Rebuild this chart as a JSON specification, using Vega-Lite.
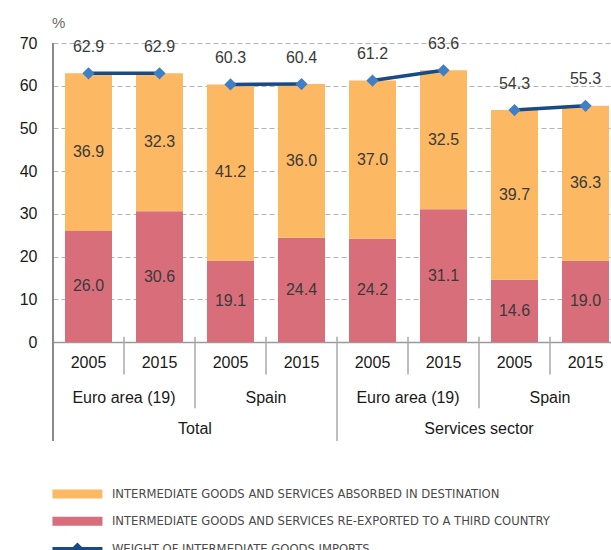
{
  "$schema": "https://vega.github.io/schema/vega-lite/v6.json",
  "width": 558,
  "height": 299,
  "autosize": {"type": "none"},
  "padding": {"left": 53, "top": 43, "right": 0, "bottom": 208},
  "background": "white",
  "config": {
    "font": "Liberation Sans",
    "view": {"stroke": null},
    "axisY": {"grid": true, "gridDash": [5, 3], "gridColor": "#b3b3b3", "gridWidth": 1, "domain": false, "ticks": false, "labelPadding": 16, "labelFontSize": 16, "labelColor": "#1a1a1a", "tickCount": 7, "title": null},
    "axisX": {"labels": false, "ticks": false, "grid": false, "domainColor": "#9a9a9a", "domainWidth": 1.5, "title": null}
  },
  "datasets": {
    "bars": [
      {"id": "1", "series": "INTERMEDIATE GOODS AND SERVICES RE-EXPORTED TO A THIRD COUNTRY", "value": 26.0},
      {"id": "1", "series": "INTERMEDIATE GOODS AND SERVICES ABSORBED IN DESTINATION", "value": 36.9},
      {"id": "2", "series": "INTERMEDIATE GOODS AND SERVICES RE-EXPORTED TO A THIRD COUNTRY", "value": 30.6},
      {"id": "2", "series": "INTERMEDIATE GOODS AND SERVICES ABSORBED IN DESTINATION", "value": 32.3},
      {"id": "3", "series": "INTERMEDIATE GOODS AND SERVICES RE-EXPORTED TO A THIRD COUNTRY", "value": 19.1},
      {"id": "3", "series": "INTERMEDIATE GOODS AND SERVICES ABSORBED IN DESTINATION", "value": 41.2},
      {"id": "4", "series": "INTERMEDIATE GOODS AND SERVICES RE-EXPORTED TO A THIRD COUNTRY", "value": 24.4},
      {"id": "4", "series": "INTERMEDIATE GOODS AND SERVICES ABSORBED IN DESTINATION", "value": 36.0},
      {"id": "5", "series": "INTERMEDIATE GOODS AND SERVICES RE-EXPORTED TO A THIRD COUNTRY", "value": 24.2},
      {"id": "5", "series": "INTERMEDIATE GOODS AND SERVICES ABSORBED IN DESTINATION", "value": 37.0},
      {"id": "6", "series": "INTERMEDIATE GOODS AND SERVICES RE-EXPORTED TO A THIRD COUNTRY", "value": 31.1},
      {"id": "6", "series": "INTERMEDIATE GOODS AND SERVICES ABSORBED IN DESTINATION", "value": 32.5},
      {"id": "7", "series": "INTERMEDIATE GOODS AND SERVICES RE-EXPORTED TO A THIRD COUNTRY", "value": 14.6},
      {"id": "7", "series": "INTERMEDIATE GOODS AND SERVICES ABSORBED IN DESTINATION", "value": 39.7},
      {"id": "8", "series": "INTERMEDIATE GOODS AND SERVICES RE-EXPORTED TO A THIRD COUNTRY", "value": 19.0},
      {"id": "8", "series": "INTERMEDIATE GOODS AND SERVICES ABSORBED IN DESTINATION", "value": 36.3}
    ],
    "totals": [
      {"id": "1", "year": "2005", "pair": "Total-Euro", "total": 62.9},
      {"id": "2", "year": "2015", "pair": "Total-Euro", "total": 62.9},
      {"id": "3", "year": "2005", "pair": "Total-Spain", "total": 60.3},
      {"id": "4", "year": "2015", "pair": "Total-Spain", "total": 60.4},
      {"id": "5", "year": "2005", "pair": "Serv-Euro", "total": 61.2},
      {"id": "6", "year": "2015", "pair": "Serv-Euro", "total": 63.6},
      {"id": "7", "year": "2005", "pair": "Serv-Spain", "total": 54.3},
      {"id": "8", "year": "2015", "pair": "Serv-Spain", "total": 55.3}
    ],
    "groups": [
      {"id": "1", "label": "Euro area (19)", "level": "country"},
      {"id": "3", "label": "Spain", "level": "country"},
      {"id": "5", "label": "Euro area (19)", "level": "country"},
      {"id": "7", "label": "Spain", "level": "country"},
      {"id": "2", "label": "Total", "level": "sector"},
      {"id": "6", "label": "Services sector", "level": "sector"}
    ],
    "seps": [
      {"id": "2", "level": "year"},
      {"id": "4", "level": "year"},
      {"id": "6", "level": "year"},
      {"id": "8", "level": "year"},
      {"id": "3", "level": "country"},
      {"id": "7", "level": "country"},
      {"id": "5", "level": "sector"},
      {"id": "1", "level": "left"}
    ],
    "unit": [{"id": "1", "label": "%"}]
  },
  "layer": [
    {
      "data": {"name": "bars"},
      "mark": {"type": "bar", "width": {"band": 0.662}},
      "encoding": {
        "x": {"field": "id", "type": "nominal", "scale": {"type": "band", "domain": ["1","2","3","4","5","6","7","8"], "range": [0, 568], "paddingInner": 0, "paddingOuter": 0}, "title": null},
        "y": {"field": "value", "type": "quantitative", "stack": "zero", "scale": {"domain": [0, 70], "nice": false}, "title": null},
        "color": {
          "field": "series", "type": "nominal",
          "scale": {"domain": ["INTERMEDIATE GOODS AND SERVICES ABSORBED IN DESTINATION", "INTERMEDIATE GOODS AND SERVICES RE-EXPORTED TO A THIRD COUNTRY", "WEIGHT OF INTERMEDIATE GOODS IMPORTS"], "range": ["#FCB862", "#D96E7B", "#174A87"]},
          "legend": {
            "orient": "none", "legendX": 18, "legendY": 444.5, "title": null, "direction": "vertical", "padding": 0,
            "labelFont": "'DejaVu Sans Condensed', 'Liberation Sans', sans-serif", "labelFontSize": 12.9, "labelColor": "#4a4a4a", "labelOffset": 28, "labelLimit": 700,
            "symbolSize": 100, "rowPadding": 13.4,
            "encode": {"symbols": {"update": {
              "shape": {"signal": "datum.value === 'WEIGHT OF INTERMEDIATE GOODS IMPORTS' ? 'M-5,-0.35H5V0.35H-5Z M0,-1.25L1.25,0L0,1.25L-1.25,0Z' : 'M-5,-0.9H5V0.9H-5Z'"},
              "fill": {"scale": "color", "field": "value"},
              "strokeWidth": {"value": 0},
              "opacity": {"value": 1}
            }}}
          }
        },
        "order": {"field": "series", "sort": "descending"}
      }
    },
    {
      "data": {"name": "bars"},
      "mark": {"type": "text", "fontSize": 16, "color": "#3a3a3a", "baseline": "middle"},
      "encoding": {
        "x": {"field": "id", "type": "nominal", "title": null},
        "y": {"field": "value", "type": "quantitative", "stack": "zero", "bandPosition": 0.5, "title": null},
        "detail": {"field": "series"},
        "order": {"field": "series", "sort": "descending"},
        "text": {"field": "value", "type": "quantitative", "format": ".1f"}
      }
    },
    {
      "data": {"name": "totals"},
      "mark": {"type": "line", "strokeWidth": 3.5},
      "encoding": {
        "x": {"field": "id", "type": "nominal", "title": null},
        "y": {"field": "total", "type": "quantitative", "title": null},
        "detail": {"field": "pair"},
        "color": {"datum": "WEIGHT OF INTERMEDIATE GOODS IMPORTS", "type": "nominal"}
      }
    },
    {
      "data": {"name": "totals"},
      "mark": {"type": "point", "shape": "diamond", "filled": true, "size": 150, "color": "#3F7FC8", "opacity": 1},
      "encoding": {
        "x": {"field": "id", "type": "nominal", "title": null},
        "y": {"field": "total", "type": "quantitative", "title": null}
      }
    },
    {
      "data": {"name": "totals"},
      "mark": {"type": "text", "fontSize": 16, "color": "#3a3a3a", "baseline": "middle", "dy": -26.5},
      "encoding": {
        "x": {"field": "id", "type": "nominal", "title": null},
        "y": {"field": "total", "type": "quantitative", "title": null},
        "text": {"field": "total", "type": "quantitative", "format": ".1f"}
      }
    },
    {
      "data": {"name": "totals"},
      "mark": {"type": "text", "fontSize": 16, "color": "#1a1a1a", "baseline": "middle"},
      "encoding": {
        "x": {"field": "id", "type": "nominal", "title": null},
        "y": {"datum": -4.9, "type": "quantitative", "title": null},
        "text": {"field": "year"}
      }
    },
    {
      "data": {"name": "groups"},
      "transform": [{"filter": "datum.level === 'country'"}],
      "mark": {"type": "text", "fontSize": 16, "color": "#1a1a1a", "baseline": "middle"},
      "encoding": {
        "x": {"field": "id", "type": "nominal", "bandPosition": 1, "title": null},
        "y": {"datum": -13.1, "type": "quantitative", "title": null},
        "text": {"field": "label"}
      }
    },
    {
      "data": {"name": "groups"},
      "transform": [{"filter": "datum.level === 'sector'"}],
      "mark": {"type": "text", "fontSize": 16, "color": "#1a1a1a", "baseline": "middle"},
      "encoding": {
        "x": {"field": "id", "type": "nominal", "bandPosition": 1, "title": null},
        "y": {"datum": -20.4, "type": "quantitative", "title": null},
        "text": {"field": "label"}
      }
    },
    {
      "data": {"name": "seps"},
      "transform": [{"filter": "datum.level === 'year'"}],
      "mark": {"type": "rule", "color": "#a8a8a8", "strokeWidth": 1.5},
      "encoding": {
        "x": {"field": "id", "type": "nominal", "bandPosition": 0, "title": null},
        "y": {"datum": 1.2, "type": "quantitative", "title": null},
        "y2": {"datum": -7.6}
      }
    },
    {
      "data": {"name": "seps"},
      "transform": [{"filter": "datum.level === 'country'"}],
      "mark": {"type": "rule", "color": "#a8a8a8", "strokeWidth": 1.5},
      "encoding": {
        "x": {"field": "id", "type": "nominal", "bandPosition": 0, "title": null},
        "y": {"datum": 1.2, "type": "quantitative", "title": null},
        "y2": {"datum": -15.5}
      }
    },
    {
      "data": {"name": "seps"},
      "transform": [{"filter": "datum.level === 'sector'"}],
      "mark": {"type": "rule", "color": "#a8a8a8", "strokeWidth": 1.5},
      "encoding": {
        "x": {"field": "id", "type": "nominal", "bandPosition": 0, "title": null},
        "y": {"datum": 1.2, "type": "quantitative", "title": null},
        "y2": {"datum": -23.2}
      }
    },
    {
      "data": {"name": "seps"},
      "transform": [{"filter": "datum.level === 'left'"}],
      "mark": {"type": "rule", "color": "#8a8a8a", "strokeWidth": 2},
      "encoding": {
        "x": {"field": "id", "type": "nominal", "bandPosition": 0, "title": null},
        "y": {"datum": 70, "type": "quantitative", "title": null},
        "y2": {"datum": -23.2}
      }
    },
    {
      "data": {"name": "unit"},
      "mark": {"type": "text", "fontSize": 15, "color": "#6a6a6a", "baseline": "middle", "align": "left", "dx": -1},
      "encoding": {
        "x": {"field": "id", "type": "nominal", "bandPosition": 0, "title": null},
        "y": {"datum": 74.7, "type": "quantitative", "title": null},
        "text": {"field": "label"}
      }
    }
  ]
}
